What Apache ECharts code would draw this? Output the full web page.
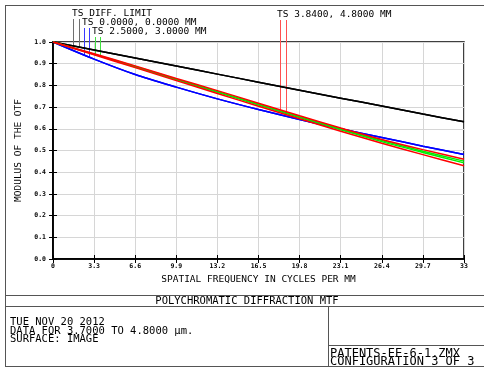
<!DOCTYPE html>
<html>
<head>
<meta charset="utf-8">
<script src="https://cdn.jsdelivr.net/npm/echarts@6/dist/echarts.min.js"></script>
<style>
html,body{margin:0;padding:0;background:#fff;}
#main{width:484px;height:368px;}
</style>
</head>
<body>
<div id="main"></div>
<script>
// 空间频率 (cycles/mm)
var freq = [0, 3.3, 6.6, 9.9, 13.2, 16.5, 19.8, 23.1, 26.4, 29.7, 33];
var xTickLabels = ['0', '3.3', '6.6', '9.9', '13.2', '16.5', '19.8', '23.1', '26.4', '29.7', '33'];
var yTickLabels = ['0.0', '0.1', '0.2', '0.3', '0.4', '0.5', '0.6', '0.7', '0.8', '0.9', '1.0'];
// 衍射极限
var diffT = [1.0, 0.963, 0.926, 0.889, 0.852, 0.815, 0.778, 0.741, 0.705, 0.668, 0.632];
var diffS = [1.0, 0.963, 0.926, 0.889, 0.852, 0.815, 0.778, 0.741, 0.705, 0.668, 0.632];
// 视场 0.0000, 0.0000 MM
var f1T = [1.0, 0.921, 0.850, 0.792, 0.738, 0.689, 0.643, 0.600, 0.560, 0.520, 0.482];
var f1S = [1.0, 0.921, 0.850, 0.792, 0.738, 0.689, 0.643, 0.600, 0.560, 0.520, 0.482];
// 视场 2.5000, 3.0000 MM
var f2T = [1.0, 0.944, 0.887, 0.829, 0.772, 0.714, 0.656, 0.600, 0.546, 0.497, 0.451];
var f2S = [1.0, 0.943, 0.885, 0.826, 0.768, 0.710, 0.652, 0.596, 0.541, 0.491, 0.443];
// 视场 3.8400, 4.8000 MM
var f3T = [1.0, 0.946, 0.890, 0.832, 0.776, 0.718, 0.660, 0.604, 0.551, 0.504, 0.460];
var f3S = [1.0, 0.941, 0.882, 0.822, 0.763, 0.704, 0.646, 0.589, 0.533, 0.481, 0.430];
// 图例引线所在频率
var leaderFreq = [1.6, 2.1, 2.5, 2.9, 3.4, 3.8, 18.2, 18.7];

var FONT = 'DejaVu Sans Mono';

function pairs(vals){
    var out = [];
    for(var i = 0; i < freq.length; i++){
        out.push([freq[i], vals[i]]);
    }
    return out;
}
function valueAt(vals, f){
    for(var i = 0; i < freq.length - 1; i++){
        if(f >= freq[i] && f <= freq[i + 1]){
            var t = (f - freq[i]) / (freq[i + 1] - freq[i]);
            return vals[i] + t * (vals[i + 1] - vals[i]);
        }
    }
    return vals[vals.length - 1];
}
function mtfSeries(name, vals, color){
    return {
        name: name,
        type: 'line',
        data: pairs(vals),
        smooth: 0.3,
        showSymbol: false,
        silent: true,
        lineStyle: {color: color, width: 1.5},
        xAxisIndex: 0,
        yAxisIndex: 0
    };
}

var chart = echarts.init(document.getElementById('main'), null, {renderer: 'canvas'});

var option = {
    animation: false,
    backgroundColor: '#fff',
    grid: {
        left: 53, right: 20, top: 42, bottom: 109,
        show: true, borderColor: '#000', borderWidth: 1.5, backgroundColor: 'transparent'
    },
    xAxis: [{
        type: 'value', min: 0, max: 33, interval: 3.3, position: 'bottom',
        name: 'SPATIAL FREQUENCY IN CYCLES PER MM',
        nameLocation: 'middle', nameGap: 13,
        nameTextStyle: {fontFamily: FONT, fontSize: 9.5, color: '#000'},
        axisLine: {show: true, lineStyle: {color: '#000', width: 1.5}},
        axisTick: {show: true, inside: true, length: 4, lineStyle: {color: '#000'}},
        axisLabel: {
            margin: 4, fontFamily: FONT, fontSize: 6.5, fontWeight: 'bold', color: '#000',
            formatter: function(v){ return xTickLabels[Math.round(v / 3.3)]; }
        },
        splitLine: {show: true, lineStyle: {color: '#d6d6d6', width: 1}}
    }, {
        type: 'value', min: 0, max: 33, interval: 3.3, position: 'top',
        axisLine: {show: true, lineStyle: {color: '#000', width: 1.5}},
        axisTick: {show: true, inside: true, length: 4, lineStyle: {color: '#000'}},
        axisLabel: {show: false},
        splitLine: {show: false}
    }],
    yAxis: [{
        type: 'value', min: 0, max: 1, interval: 0.1, position: 'left',
        name: 'MODULUS OF THE OTF',
        nameLocation: 'middle', nameGap: 19,
        nameTextStyle: {fontFamily: FONT, fontSize: 9.5, color: '#000'},
        axisLine: {show: true, lineStyle: {color: '#000', width: 1.5}},
        axisTick: {show: true, inside: true, length: 4, lineStyle: {color: '#000'}},
        axisLabel: {
            margin: 7, fontFamily: FONT, fontSize: 6.5, fontWeight: 'bold', color: '#000',
            formatter: function(v){ return yTickLabels[Math.round(v * 10)]; }
        },
        splitLine: {show: true, lineStyle: {color: '#d6d6d6', width: 1}}
    }, {
        type: 'value', min: 0, max: 1, interval: 0.1, position: 'right',
        axisLine: {show: true, lineStyle: {color: '#000', width: 1.5}},
        axisTick: {show: true, inside: true, length: 4, lineStyle: {color: '#000'}},
        axisLabel: {show: false},
        splitLine: {show: false}
    }],
    series: [
        mtfSeries('TS DIFF. LIMIT T', diffT, '#000000'),
        mtfSeries('TS DIFF. LIMIT S', diffS, '#000000'),
        mtfSeries('TS 0.0000, 0.0000 MM T', f1T, '#0000ff'),
        mtfSeries('TS 0.0000, 0.0000 MM S', f1S, '#0000ff'),
        mtfSeries('TS 2.5000, 3.0000 MM T', f2T, '#00ee00'),
        mtfSeries('TS 2.5000, 3.0000 MM S', f2S, '#00ee00'),
        mtfSeries('TS 3.8400, 4.8000 MM T', f3T, '#ff0000'),
        mtfSeries('TS 3.8400, 4.8000 MM S', f3S, '#ff0000')
    ]
};
chart.setOption(option);

// 边框、标题和图例文字
var frameColor = '#555';
function hline(x1, x2, y){
    return {type: 'line', silent: true, shape: {x1: x1, y1: y, x2: x2, y2: y}, style: {stroke: frameColor, lineWidth: 1}};
}
function vline(x, y1, y2){
    return {type: 'line', silent: true, shape: {x1: x, y1: y1, x2: x, y2: y2}, style: {stroke: frameColor, lineWidth: 1}};
}
function label(text, x, y, size, align){
    return {
        type: 'text', silent: true, x: x, y: y,
        style: {text: text, fontFamily: FONT, fontSize: size, fill: '#000', align: align || 'left', verticalAlign: 'middle'}
    };
}

var graphics = [
    hline(5, 484, 5.5),
    vline(5.5, 5, 367),
    hline(5, 484, 295.5),
    hline(5, 484, 306.5),
    vline(328.5, 306, 367),
    hline(328, 484, 345.5),
    hline(5, 484, 366.5),
    label('POLYCHROMATIC DIFFRACTION MTF', 247, 301, 10.5, 'center'),
    label('TUE NOV 20 2012', 10, 322.5, 10.5),
    label('DATA FOR 3.7000 TO 4.8000 \u03bcm.', 10, 331, 10.5),
    label('SURFACE: IMAGE', 10, 339.5, 10.5),
    label('PATENTS-EE-6-1.ZMX', 330, 353.5, 12),
    label('CONFIGURATION 3 OF 3', 330, 362, 12),
    label('TS DIFF. LIMIT', 72, 14, 9.5),
    label('TS 0.0000, 0.0000 MM', 82, 23, 9.5),
    label('TS 2.5000, 3.0000 MM', 92, 31.5, 9.5),
    label('TS 3.8400, 4.8000 MM', 277, 14.5, 9.5)
];

// 图例引线：从标签下方连到对应曲线
var leaderCurves = [diffT, diffS, f1T, f1S, f2T, f2S, f3T, f3S];
var leaderTop = [19, 19, 28, 28, 37, 37, 20, 20];
var leaderColor = ['#707070', '#707070', '#3a3aff', '#3a3aff', '#40e040', '#40e040', '#ff5050', '#ff5050'];
for(var i = 0; i < leaderFreq.length; i++){
    var p = chart.convertToPixel({gridIndex: 0}, [leaderFreq[i], valueAt(leaderCurves[i], leaderFreq[i])]);
    var px = Math.round(p[0]) + 0.5;
    graphics.push({
        type: 'line', silent: true,
        shape: {x1: px, y1: leaderTop[i], x2: px, y2: p[1]},
        style: {stroke: leaderColor[i], lineWidth: 1}
    });
}
chart.setOption({graphic: graphics});
</script>
</body>
</html>
